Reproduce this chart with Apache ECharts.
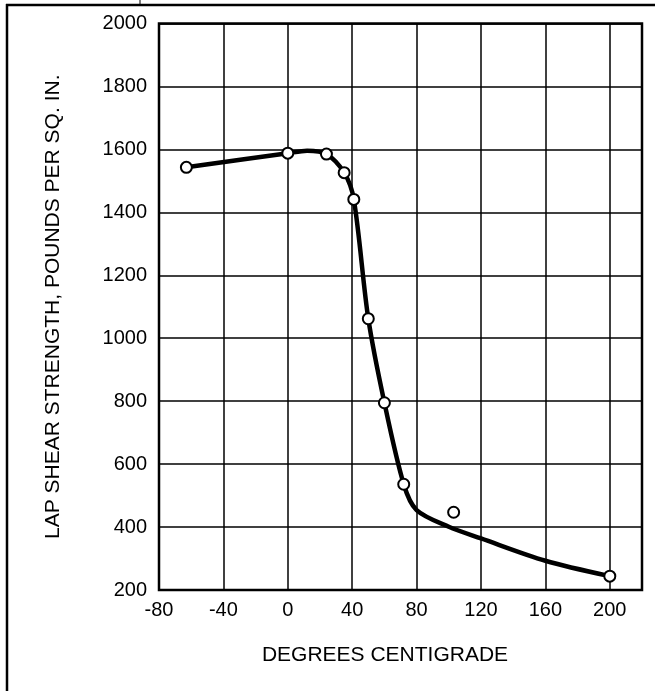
<!DOCTYPE html>
<html>
<head>
<meta charset="utf-8">
<script src="https://cdn.jsdelivr.net/npm/echarts@6/dist/echarts.min.js"></script>
<style>
  html, body { margin: 0; padding: 0; background: #fff; }
  #main { width: 655px; height: 691px; }
</style>
</head>
<body>
<div id="main"></div>
<script>
// measured points (open circles)
var markTemps = [-63, 0, 24, 35, 41, 50, 60, 72, 103, 200];
var markStrength = [1543, 1588, 1585, 1526, 1441, 1062, 795, 536, 447, 244];

// hand drawn curve
var curveTemps = [-63, 0, 12, 24, 35, 41, 50, 60, 72, 80, 100, 120, 160, 200];
var curveStrength = [1543, 1588, 1596, 1585, 1526, 1441, 1062, 795, 536, 454, 401, 364, 293, 244];

var xTicks = [-80, -40, 0, 40, 80, 120, 160, 200];

var marks = [];
for (var i = 0; i < markTemps.length; i++) {
    marks.push([markTemps[i], markStrength[i]]);
}
var curve = [];
for (var j = 0; j < curveTemps.length; j++) {
    curve.push([curveTemps[j], curveStrength[j]]);
}

var font = 'Liberation Sans, Arial, sans-serif';
var myChart = echarts.init(document.getElementById('main'));
var option = {
    animation: false,
    backgroundColor: '#fff',
    grid: {
        left: 159,
        right: 13,
        top: 23.5,
        bottom: 101,
        show: true,
        borderColor: '#000',
        borderWidth: 2.5
    },
    graphic: [
        { type: 'line', shape: { x1: 6, y1: 5, x2: 655, y2: 5 }, style: { stroke: '#000', lineWidth: 2.5 } },
        { type: 'line', shape: { x1: 7, y1: 4, x2: 7, y2: 691 }, style: { stroke: '#000', lineWidth: 2.5 } },
        { type: 'line', shape: { x1: 140, y1: 0, x2: 140, y2: 4 }, style: { stroke: '#000', lineWidth: 1 } }
    ],
    xAxis: {
        type: 'value',
        min: -80,
        max: 220,
        interval: 40,
        name: 'DEGREES CENTIGRADE',
        nameLocation: 'middle',
        nameGap: 55,
        nameTextStyle: { color: '#000', fontSize: 21, fontFamily: font, padding: [0, 31, 0, 0] },
        axisLine: { show: false },
        axisTick: { show: false },
        axisLabel: {
            color: '#000', fontSize: 20, fontFamily: font, margin: 10,
            showMaxLabel: false,
            formatter: function (v) { return xTicks.indexOf(v) >= 0 ? String(v) : ''; }
        },
        splitLine: { show: true, lineStyle: { color: '#000', width: 1.5 } }
    },
    yAxis: {
        type: 'value',
        min: 200,
        max: 2000,
        interval: 200,
        name: 'LAP SHEAR STRENGTH, POUNDS PER SQ. IN.',
        nameLocation: 'middle',
        nameGap: 95,
        nameTextStyle: { color: '#000', fontSize: 21, fontFamily: font },
        axisLine: { show: false },
        axisTick: { show: false },
        axisLabel: {
            color: '#000', fontSize: 20, fontFamily: font, margin: 12,
            formatter: function (v) { return String(v); }
        },
        splitLine: { show: true, lineStyle: { color: '#000', width: 1.5 } }
    },
    series: [{
        type: 'line',
        data: curve,
        smooth: 0.3,
        showSymbol: false,
        lineStyle: { color: '#000', width: 4.5 },
        z: 3
    }, {
        type: 'scatter',
        data: marks,
        symbol: 'circle',
        symbolSize: 11,
        itemStyle: { color: '#fff', borderColor: '#000', borderWidth: 2, opacity: 1 },
        z: 4
    }]
};
myChart.setOption(option);
</script>
</body>
</html>
